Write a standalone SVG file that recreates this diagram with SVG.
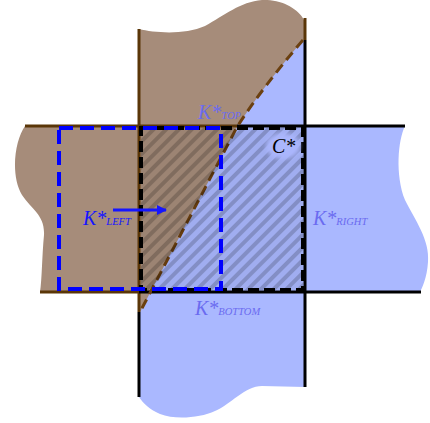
<svg xmlns="http://www.w3.org/2000/svg" width="430" height="423" viewBox="0 0 430 423">
<style>
.lbl{font-family:"Liberation Serif","DejaVu Serif",serif;font-style:italic;}
.big{font-size:20px;}
.sub{font-size:10.5px;}
.kl{fill:#6b6bf0;}
.kleft{fill:#1515ff;}
.lnB{stroke:#5a3608;stroke-width:3;fill:none;}
.lnK{stroke:#000;stroke-width:3;fill:none;}
</style>
<defs>
<pattern id="hatch" patternUnits="userSpaceOnUse" width="9" height="9" patternTransform="rotate(45)">
<rect width="9" height="9" fill="#000" fill-opacity="0.06"/>
<rect width="4" height="9" fill="#000" fill-opacity="0.18"/>
</pattern>
<marker id="arr" markerWidth="10" markerHeight="10" refX="9" refY="5" orient="auto" markerUnits="userSpaceOnUse" viewBox="0 0 10 10">
<path d="M0,0 L10,5 L0,10 Z" fill="#1515ff"/>
</marker>
<filter id="soft" x="-30%" y="-30%" width="160%" height="160%"><feGaussianBlur stdDeviation="2"/></filter>
</defs>

<g id="regions">
<path id="blue-region" fill="#aab8ff" d="M220,40 L305,40 L305,126 L405,126 C398,140 395,175 405,200 C415,220 430,240 428,262 C427,278 422,288 420,292 L305,292 L305,387 L262,386 C245,386 230,405 215,411 C200,418 175,420 160,414 C150,410 143,403 139,397 L139,126 Z"/>
<path id="brown-region" fill="#a68c7a" d="M139,29 C155,33 185,35 205,26 C225,15 240,2 262,0 C280,-1 298,8 304,20 L305,40 L303,40 Q262,88 237,127 L140,312 L139,292 L40,292 C42,280 42,255 44,235 C45,215 32,210 22,195 C10,175 15,140 25,126 L139,126 Z"/>
</g>

<g id="frame-lines">
<line class="lnB" x1="139" y1="29" x2="139" y2="312"/>
<line class="lnK" x1="139" y1="312" x2="139" y2="397"/>
<line class="lnB" x1="305" y1="18" x2="305" y2="40"/>
<line class="lnK" x1="305" y1="40" x2="305" y2="387"/>
<line class="lnB" x1="25" y1="126" x2="237" y2="126"/>
<line class="lnK" x1="237" y1="126" x2="405" y2="126"/>
<line class="lnB" x1="40" y1="292" x2="139" y2="292"/>
<line class="lnK" x1="139" y1="292" x2="421" y2="292"/>
<path d="M303,40 Q262,88 237,127 L140,312" fill="none" stroke="#6b4010" stroke-width="3" stroke-dasharray="10 6"/>
</g>

<g id="c-star">
<rect x="141" y="128" width="162" height="162" fill="url(#hatch)"/>
<rect x="141" y="128" width="162" height="162" fill="none" stroke="#000" stroke-width="4" stroke-dasharray="11 5"/>
<ellipse cx="283" cy="146" rx="17" ry="13" fill="#aab6fc" filter="url(#soft)"/>
<text class="lbl big" x="272" y="153" fill="#000">C*</text>
</g>

<g id="k-left">
<rect x="59" y="128" width="162" height="161" fill="none" stroke="#0000ff" stroke-width="4" stroke-dasharray="14 7"/>
<text class="lbl kleft" x="83" y="225"><tspan class="big">K*</tspan><tspan class="sub">LEFT</tspan></text>
</g>

<g id="k-top"><text class="lbl kl" x="198" y="119"><tspan class="big">K*</tspan><tspan class="sub">TOP</tspan></text></g>
<g id="k-right"><text class="lbl kl" x="313" y="225"><tspan class="big">K*</tspan><tspan class="sub">RIGHT</tspan></text></g>
<g id="k-bottom"><text class="lbl kl" x="195" y="315"><tspan class="big">K*</tspan><tspan class="sub">BOTTOM</tspan></text></g>

<g id="connectors">
<line x1="113" y1="210" x2="166" y2="210" stroke="#1515ff" stroke-width="3" marker-end="url(#arr)"/>
</g>
</svg>
